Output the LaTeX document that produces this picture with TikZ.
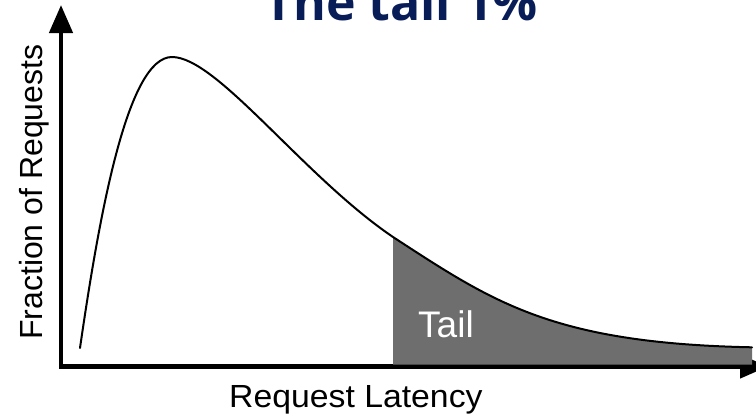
\documentclass[tikz,border=0pt]{standalone}
\usepackage{fontspec}
\setmainfont{Liberation Sans}
\newfontfamily\titlefont{Open Sans}
\usetikzlibrary{arrows.meta}

\definecolor{titleblue}{RGB}{8,28,88}
\definecolor{tailgray}{RGB}{110,110,110}

\tikzset{
  axisline/.style={line width=4.5pt, line join=miter,
    {Triangle[length=28pt,width=23pt]}-{Triangle[length=28pt,width=23pt]}},
  curveline/.style={line width=2pt, line cap=round},
  axislabel/.style={inner sep=0pt, font=\fontsize{32}{32}\selectfont},
  taillabelstyle/.style={inner sep=0pt, text=white, font=\fontsize{37}{37}\selectfont},
  titlestyle/.style={inner sep=0pt, text=titleblue, font=\titlefont\bfseries\fontsize{50}{50}\selectfont}
}

\begin{document}
\begin{tikzpicture}[x=1pt,y=-1pt]
  \useasboundingbox (0,0) rectangle (756,416);
  \fill[white] (0,0) rectangle (756,416);

  % axes
  \coordinate (ytip) at (61,5);
  \coordinate (origin) at (61,366.5);
  \coordinate (xtip) at (768,366.5);
  \draw[axisline] (ytip) -- (origin) -- (xtip);

  % key points of the distribution curve
  \coordinate (start) at (80,348);
  \coordinate (peak) at (172,57);
  \coordinate (cut) at (393,237);
  \coordinate (end) at (752,347.3);

  % shaded tail
  \fill[tailgray] (393,364.5) -- (cut)
    .. controls (493,302) and (552,343.3) .. (end)
    -- (752,364.5) -- cycle;

  % distribution curve
  \draw[curveline] (start)
    .. controls (100,210) and (128,57) .. (peak)
    .. controls (217,57) and (303,176) .. (cut)
    .. controls (493,302) and (552,343.3) .. (end);

  % labels
  \node[titlestyle, anchor=base] (title) at (401,20) {The tail 1\%};
  \node[axislabel, anchor=base west, xscale=1.055] (xlabel) at (229,407.5) {Request Latency};
  \node[axislabel, anchor=base west, rotate=90] (ylabel) at (42,340) {Fraction of Requests};
  \node[taillabelstyle, anchor=base west] (taillabel) at (418,337) {Tail};
\end{tikzpicture}
\end{document}
